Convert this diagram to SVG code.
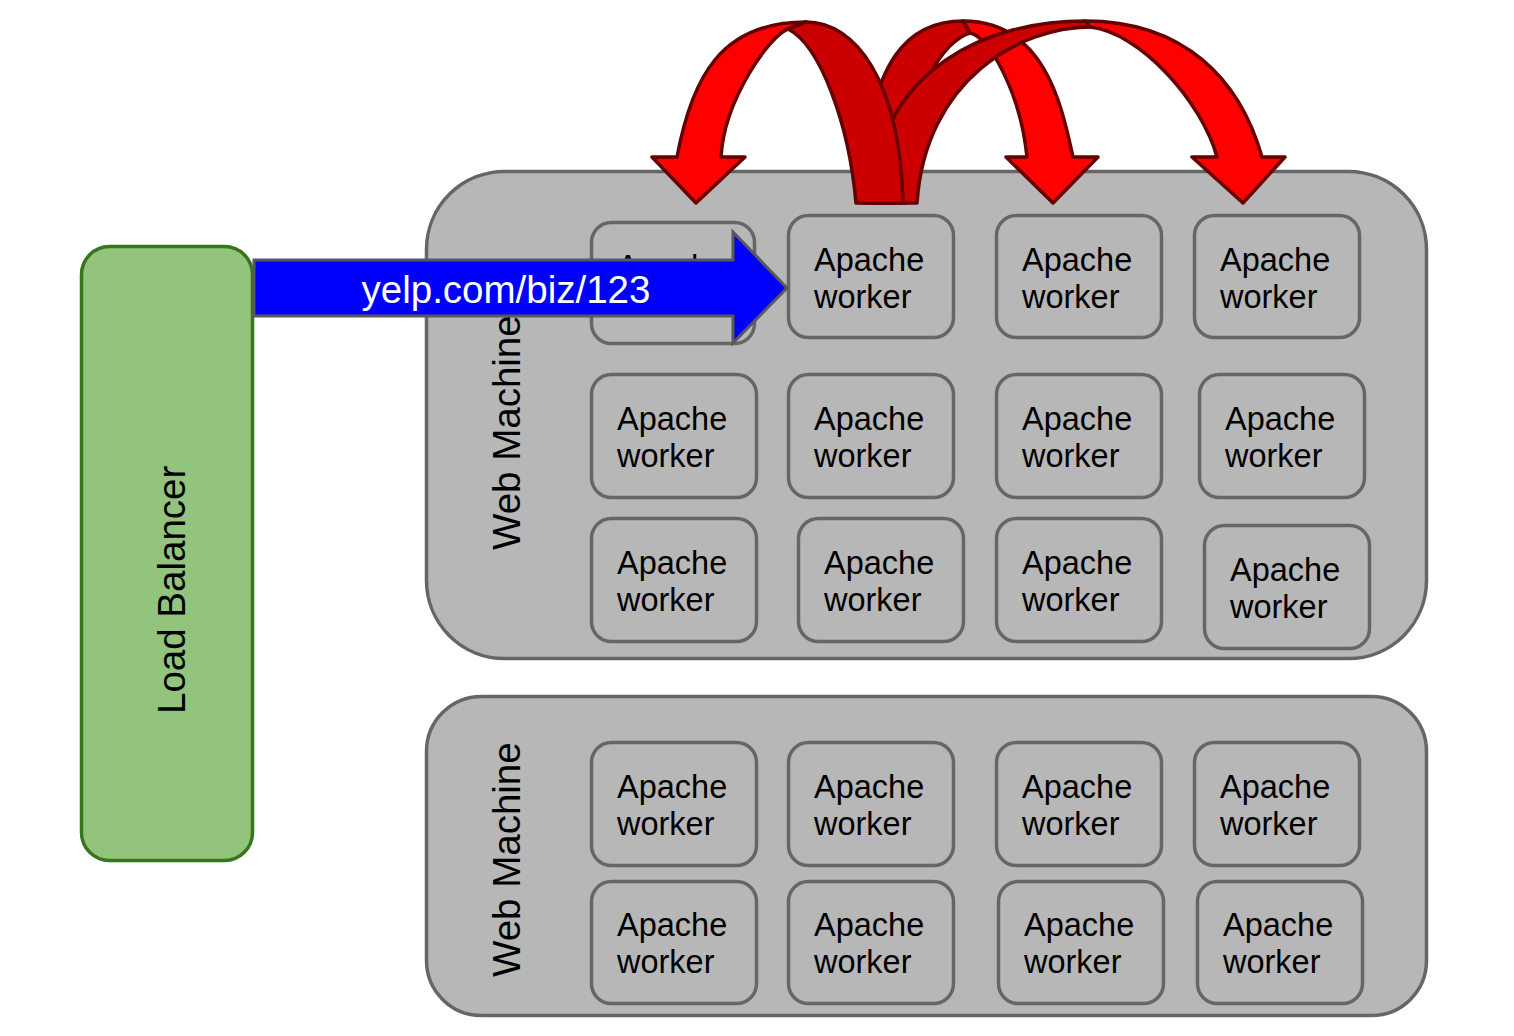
<svg xmlns="http://www.w3.org/2000/svg" width="1514" height="1036" viewBox="0 0 1514 1036">
<style>
text{font-family:"Liberation Sans",Arial,sans-serif;fill:#000}
.wk rect{fill:#b7b7b7;stroke:#666666;stroke-width:3.5}
.wk text{font-size:32.5px}
.mach{fill:#b7b7b7;stroke:#666666;stroke-width:3.5}
.big{font-size:38.5px}
.rb{fill:#ff0000;stroke:#660000;stroke-width:3.5;stroke-linejoin:round}
.rd{fill:#cc0000;stroke:#660000;stroke-width:3.5;stroke-linejoin:round}
</style>
<rect width="1514" height="1036" fill="#ffffff"/>
<g id="load-balancer">
<rect x="81.5" y="246.5" width="171" height="614" rx="28" fill="#93c47d" stroke="#38761d" stroke-width="3.5"/>
<text class="big" transform="translate(185,714) rotate(-90)">Load Balancer</text>
</g>
<g id="web-machine-1">
<rect class="mach" x="426.5" y="171.5" width="1000" height="487" rx="78"/>
<text class="big" transform="translate(520,550) rotate(-90)">Web Machine</text>
</g>
<g id="web-machine-2">
<rect class="mach" x="426.5" y="696.5" width="1000" height="319" rx="55"/>
<text class="big" transform="translate(520,977) rotate(-90)">Web Machine</text>
</g>
<g id="w1-1" class="wk"><rect x="591.5" y="222.5" width="163" height="121" rx="20"/><text x="617" y="278">Apache</text><text x="617" y="315">worker</text></g>
<g id="w1-2" class="wk"><rect x="788.5" y="215.5" width="165" height="122" rx="20"/><text x="814" y="271">Apache</text><text x="814" y="308">worker</text></g>
<g id="w1-3" class="wk"><rect x="996.5" y="215.5" width="165" height="122" rx="20"/><text x="1022" y="271">Apache</text><text x="1022" y="308">worker</text></g>
<g id="w1-4" class="wk"><rect x="1194.5" y="215.5" width="165" height="122" rx="20"/><text x="1220" y="271">Apache</text><text x="1220" y="308">worker</text></g>
<g id="w1-5" class="wk"><rect x="591.5" y="374.5" width="165" height="123" rx="20"/><text x="617" y="430">Apache</text><text x="617" y="467">worker</text></g>
<g id="w1-6" class="wk"><rect x="788.5" y="374.5" width="165" height="123" rx="20"/><text x="814" y="430">Apache</text><text x="814" y="467">worker</text></g>
<g id="w1-7" class="wk"><rect x="996.5" y="374.5" width="165" height="123" rx="20"/><text x="1022" y="430">Apache</text><text x="1022" y="467">worker</text></g>
<g id="w1-8" class="wk"><rect x="1199.5" y="374.5" width="165" height="123" rx="20"/><text x="1225" y="430">Apache</text><text x="1225" y="467">worker</text></g>
<g id="w1-9" class="wk"><rect x="591.5" y="518.5" width="165" height="123" rx="20"/><text x="617" y="574">Apache</text><text x="617" y="611">worker</text></g>
<g id="w1-10" class="wk"><rect x="798.5" y="518.5" width="165" height="123" rx="20"/><text x="824" y="574">Apache</text><text x="824" y="611">worker</text></g>
<g id="w1-11" class="wk"><rect x="996.5" y="518.5" width="165" height="123" rx="20"/><text x="1022" y="574">Apache</text><text x="1022" y="611">worker</text></g>
<g id="w1-12" class="wk"><rect x="1204.5" y="525.5" width="165" height="123" rx="20"/><text x="1230" y="581">Apache</text><text x="1230" y="618">worker</text></g>
<g id="w2-1" class="wk"><rect x="591.5" y="742.5" width="165" height="123" rx="20"/><text x="617" y="798">Apache</text><text x="617" y="835">worker</text></g>
<g id="w2-2" class="wk"><rect x="788.5" y="742.5" width="165" height="123" rx="20"/><text x="814" y="798">Apache</text><text x="814" y="835">worker</text></g>
<g id="w2-3" class="wk"><rect x="996.5" y="742.5" width="165" height="123" rx="20"/><text x="1022" y="798">Apache</text><text x="1022" y="835">worker</text></g>
<g id="w2-4" class="wk"><rect x="1194.5" y="742.5" width="165" height="123" rx="20"/><text x="1220" y="798">Apache</text><text x="1220" y="835">worker</text></g>
<g id="w2-5" class="wk"><rect x="591.5" y="881.5" width="165" height="122" rx="20"/><text x="617" y="936">Apache</text><text x="617" y="973">worker</text></g>
<g id="w2-6" class="wk"><rect x="788.5" y="881.5" width="165" height="122" rx="20"/><text x="814" y="936">Apache</text><text x="814" y="973">worker</text></g>
<g id="w2-7" class="wk"><rect x="998.5" y="881.5" width="165" height="122" rx="20"/><text x="1024" y="936">Apache</text><text x="1024" y="973">worker</text></g>
<g id="w2-8" class="wk"><rect x="1197.5" y="881.5" width="165" height="122" rx="20"/><text x="1223" y="936">Apache</text><text x="1223" y="973">worker</text></g>
<g id="connectors">
<g id="request-arrow">
<polygon points="254,260 733,260 733,232 787,288 733,343 733,316 254,316" fill="#0000ff" stroke="#595959" stroke-width="3" stroke-linejoin="miter"/>
<text x="506" y="303" text-anchor="middle" class="big" style="fill:#ffffff">yelp.com/biz/123</text>
</g>
<g id="arrow-to-w1-4">
<path class="rb" d="M1006,157 L1027,157 C1020,90 988,36 970,33 L963,21 C1045,21 1062,107 1073,157 L1098,157 L1053,203 Z"/>
<path class="rd" d="M963,21 C915,21 866,50 862,203 L906,203 C905,90 945,40 970,33 Z"/>
</g>
<g id="arrow-to-w1-3">
<path class="rb" d="M1192,157 L1217,157 C1202,102 1140,32 1090,27 L1085,21 C1185,21 1240,80 1262,157 L1285,157 L1243,203 Z"/>
<path class="rd" d="M1085,21 C990,21 880,65 870,203 L917,203 C925,80 1020,27 1090,27 Z"/>
</g>
<g id="arrow-to-w1-1">
<path class="rb" d="M652,157 L677,157 C692,77 721,22 806,22 L788,29 C770,35 724,100 721,157 L745,157 L696,203 Z"/>
<path class="rd" d="M806,22 C855,22 900,80 903,203 L856,203 C849,123 820,45 788,29 Z"/>
</g>
</g>
</svg>
